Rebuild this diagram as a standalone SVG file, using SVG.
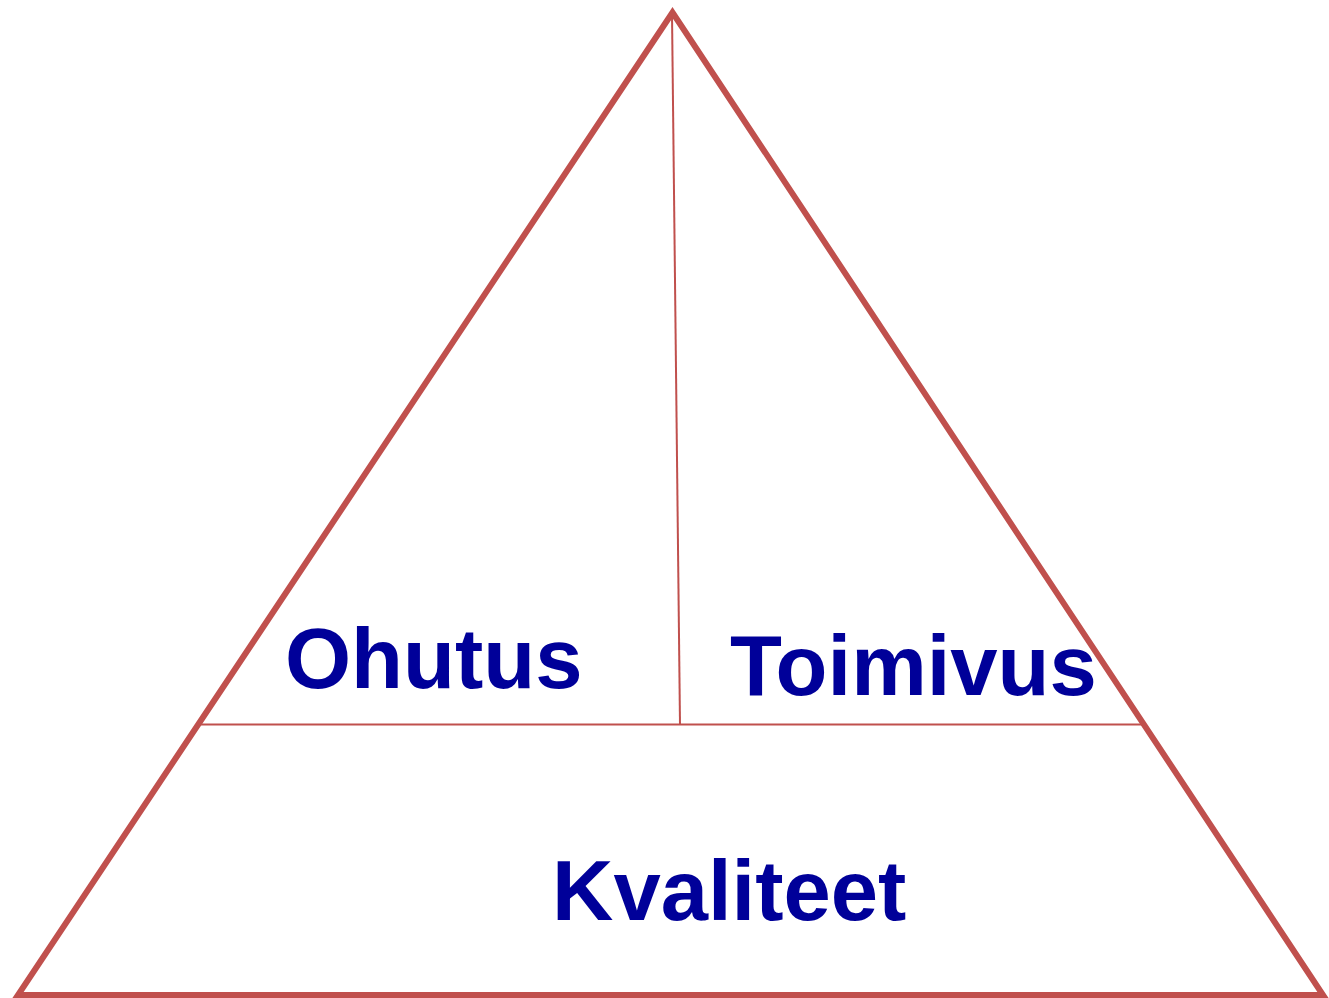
<svg xmlns="http://www.w3.org/2000/svg" width="1329" height="998" viewBox="0 0 1329 998">
<style>
.lbl{font-family:"Liberation Sans",Arial,sans-serif;font-weight:bold;font-size:85px;fill:#000099}
.thin{stroke:#C0504D;stroke-width:2;fill:none}
</style>
<rect width="1329" height="998" fill="#ffffff"/>
<g id="triangle">
<polygon points="672.5,12.5 18,995 1323,995" fill="none" stroke="#C0504D" stroke-width="6"/>
</g>
<g id="connectors">
<line class="thin" x1="672" y1="14" x2="680" y2="724.5"/>
<line class="thin" x1="201" y1="724.5" x2="1144" y2="724.5"/>
</g>
<g id="ohutus"><text class="lbl" x="285" y="688">Ohutus</text></g>
<g id="toimivus"><text class="lbl" x="730" y="695">Toimivus</text></g>
<g id="kvaliteet"><text class="lbl" x="552" y="920">Kvaliteet</text></g>
</svg>
